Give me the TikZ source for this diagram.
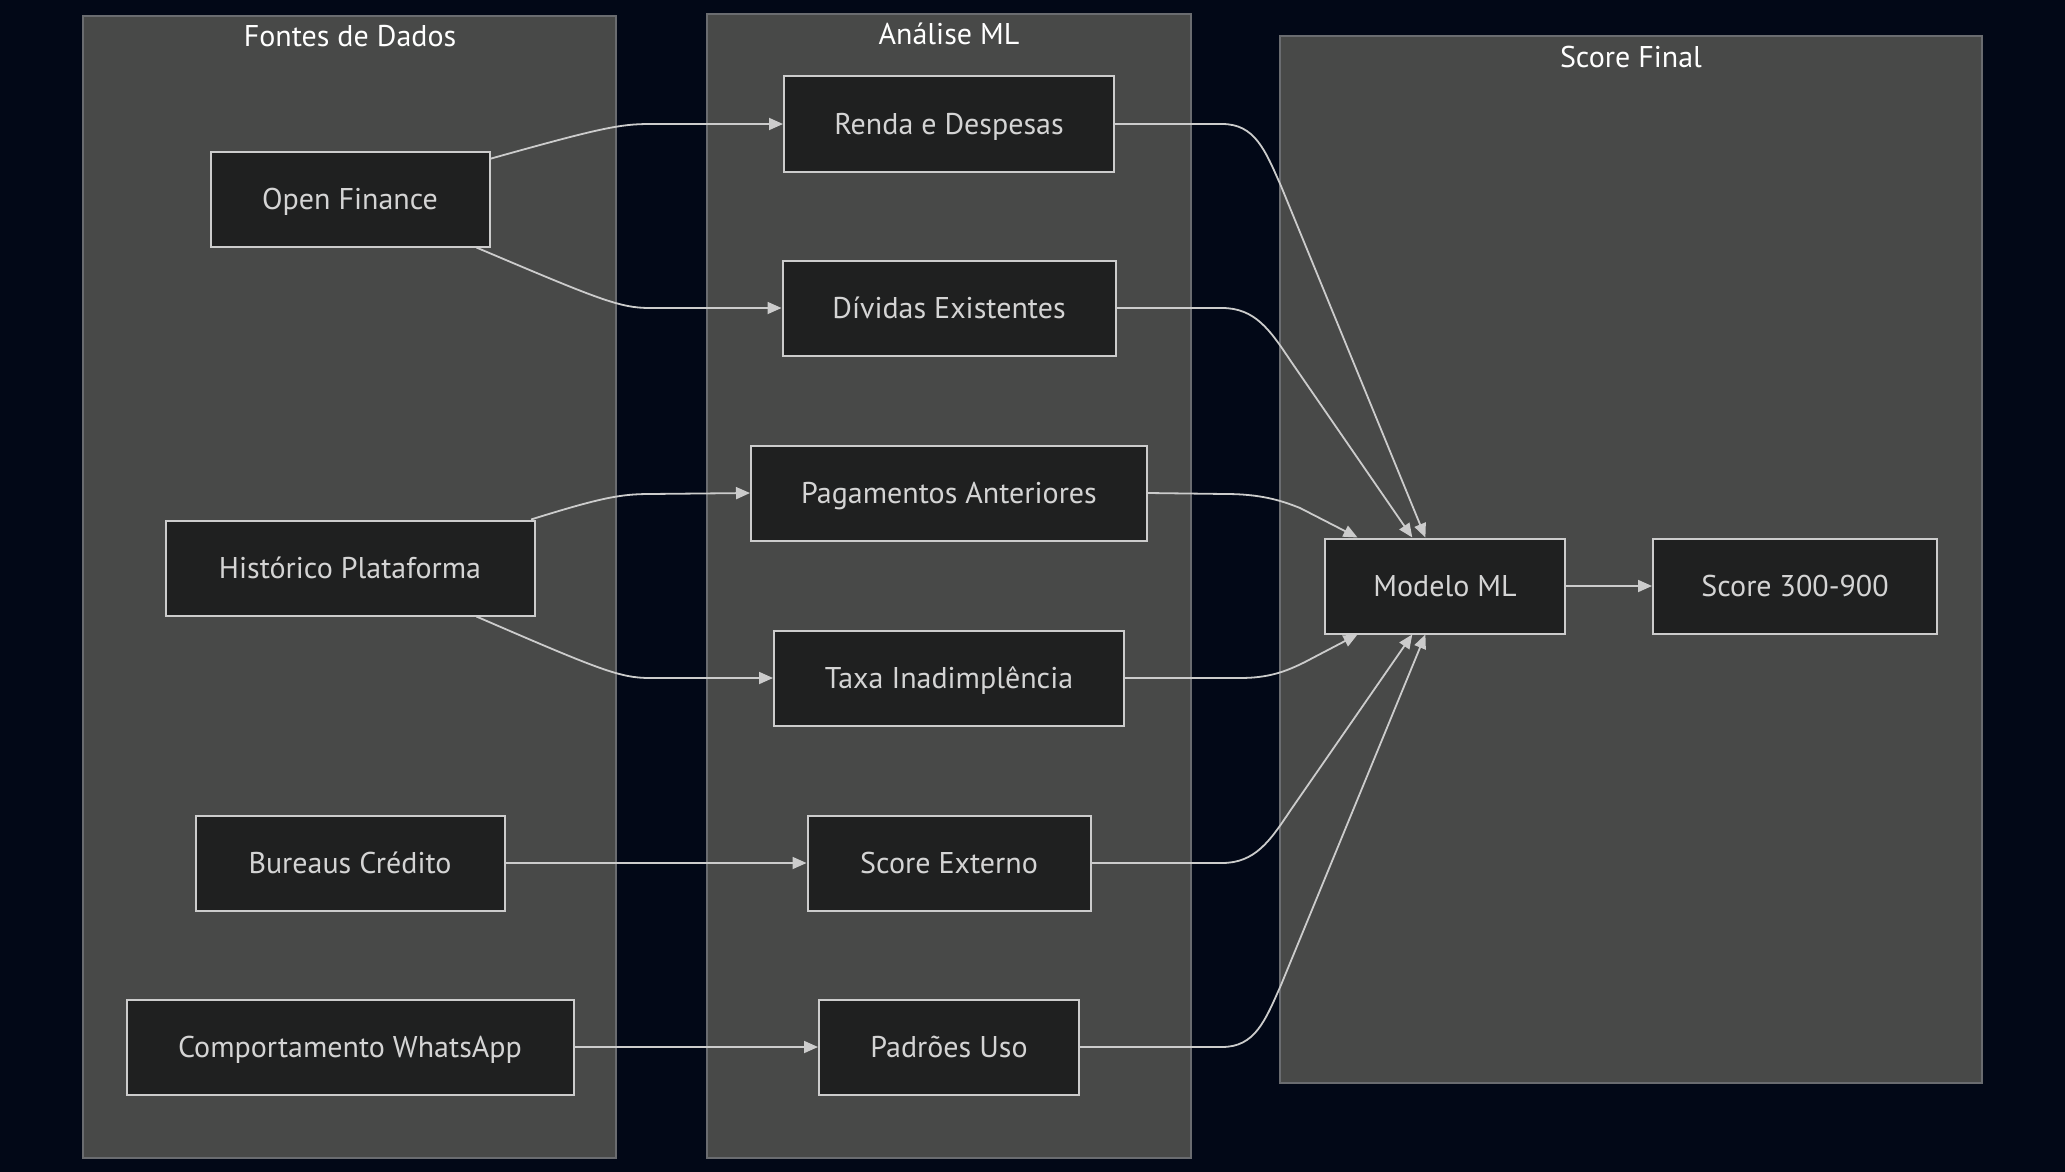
\documentclass[tikz,border=0pt]{standalone}
\usepackage{fontspec}
\setmainfont{PT Sans}
\usetikzlibrary{arrows.meta}
\definecolor{bg}{HTML}{020817}
\definecolor{clusterfill}{HTML}{484948}
\definecolor{clusterline}{HTML}{6A6C70}
\definecolor{boxfill}{HTML}{1F2020}
\definecolor{boxline}{HTML}{CCCCCC}
\definecolor{txt}{HTML}{D4D4D4}
\tikzset{
  cluster/.style={draw=clusterline, fill=clusterfill, line width=1.5pt},
  ctitle/.style={text=white, font=\fontsize{30}{34}\selectfont, anchor=center,
    text height=21pt, text depth=0pt},
  box/.style={draw=boxline, fill=boxfill, line width=2pt, text=txt,
    font=\fontsize{30}{34}\selectfont, minimum height=95pt, inner sep=0pt,
    text height=21pt, text depth=0pt},
  arr/.style={draw=boxline, line width=1.8pt, -{Triangle[length=14pt,width=12pt]}},
}
\begin{document}
\begin{tikzpicture}[x=1pt,y=-1pt]
\useasboundingbox (0,0) rectangle (2065,1172);
\fill[bg] (0,0) rectangle (2065,1172);

% group panels
\draw[cluster] (83,16) rectangle (616,1158);
\draw[cluster] (707,14) rectangle (1191,1158);
\draw[cluster] (1280,36) rectangle (1982,1083);
\node[ctitle] (t1) at (350,36) {Fontes de Dados};
\node[ctitle] (t2) at (949,34) {Análise ML};
\node[ctitle] (t3) at (1631,57) {Score Final};

% data sources
\node[box, minimum width=279pt] (of) at (350,199) {Open Finance};
\node[box, minimum width=369pt] (hist) at (350,568) {Histórico Plataforma};
\node[box, minimum width=309pt] (bur) at (350,863) {Bureaus Crédito};
\node[box, minimum width=447pt] (wa) at (350,1047) {Comportamento WhatsApp};

% analysis
\node[box, minimum width=330pt] (renda) at (949,124) {Renda e Despesas};
\node[box, minimum width=333pt] (div) at (949,308) {Dívidas Existentes};
\node[box, minimum width=396pt] (pag) at (949,493) {Pagamentos Anteriores};
\node[box, minimum width=350pt] (taxa) at (949,678) {Taxa Inadimplência};
\node[box, minimum width=283pt] (ext) at (949,863) {Score Externo};
\node[box, minimum width=260pt] (uso) at (949,1047) {Padrões Uso};

% final score
\node[box, minimum width=240pt] (ml) at (1445,586) {Modelo ML};
\node[box, minimum width=284pt] (score) at (1795,586) {Score 300-900};

% sources -> analysis
\draw[arr] (of.16) .. controls (600,128) and (620,124) .. (650,124) -- (renda.west);
\draw[arr] (of.-21.5) .. controls (600,300) and (620,308) .. (650,308) -- (div.west);
\draw[arr] (hist.15.4) .. controls (600,498) and (620,494) .. (650,494) -- (pag.west);
\draw[arr] (hist.-21.5) .. controls (600,670) and (620,678) .. (650,678) -- (taxa.west);
\draw[arr] (bur.east) -- (ext.west);
\draw[arr] (wa.east) -- (uso.west);

% analysis -> model
\draw[arr] (renda.east) -- (1222,124) .. controls (1255,124) and (1265,150) .. (1281,186) -- (ml.112);
\draw[arr] (div.east) -- (1222,308) .. controls (1255,308) and (1270,330) .. (1290,360) -- (ml.124);
\draw[arr] (pag.east) -- (1225,494) .. controls (1260,494) and (1280,500) .. (1300,508) -- (ml.151.6);
\draw[arr] (taxa.east) -- (1240,678) .. controls (1268,678) and (1285,672) .. (1305,662) -- (ml.-151.6);
\draw[arr] (ext.east) -- (1222,863) .. controls (1255,863) and (1270,841) .. (1290,811) -- (ml.-124);
\draw[arr] (uso.east) -- (1222,1047) .. controls (1255,1047) and (1265,1021) .. (1281,985) -- (ml.-112);

% model -> score
\draw[arr] (ml.east) -- (score.west);
\end{tikzpicture}
\end{document}
